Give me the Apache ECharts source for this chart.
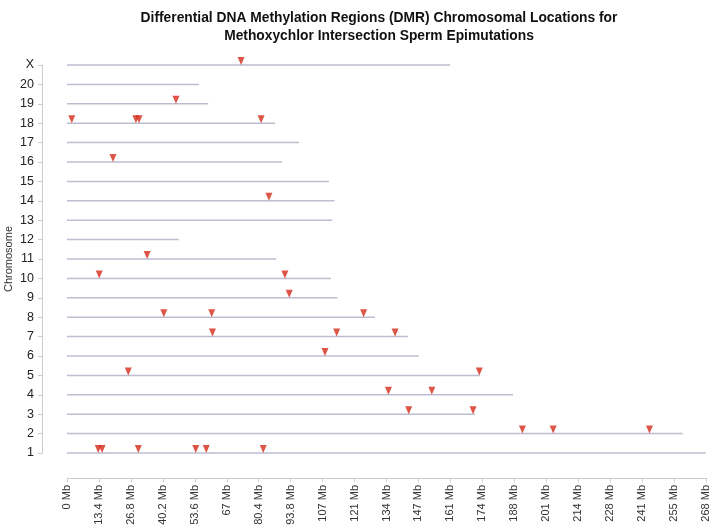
<!DOCTYPE html>
<html>
<head>
<meta charset="utf-8">
<script src="https://cdn.jsdelivr.net/npm/echarts@6/dist/echarts.min.js"></script>
<style>html,body{margin:0;padding:0;background:#fff}#c{width:715px;height:528px}</style>
</head>
<body>
<div id="c"></div>
<script>
// Chromosome names (y = 1..21) and lengths in Mb
var chromosomes = ['1','2','3','4','5','6','7','8','9','10','11','12','13','14','15','16','17','18','19','20','X'];
var chromLengths = [267.9, 258.2, 171.1, 187.1, 173.1, 147.6, 143.0, 129.1, 113.4, 110.7, 87.8, 46.8, 111.2, 112.2, 109.8, 90.2, 97.3, 87.3, 59.2, 55.3, 160.7];
// DMR positions (Mb) and the chromosome index (1..21) they sit on
var dmrPos = [13.1, 14.7, 29.9, 54.0, 58.4, 82.3,
              191.0, 203.9, 244.3,
              143.3, 170.3,
              134.8, 153.0,
              25.7, 172.9,
              108.2,
              61.0, 113.1, 137.6,
              40.6, 60.7, 124.4,
              93.2,
              13.5, 91.4,
              33.6,
              84.7,
              19.3,
              2.0, 28.9, 30.2, 81.4,
              45.7,
              73.0];
var dmrChrom = [1, 1, 1, 1, 1, 1,
                2, 2, 2,
                3, 3,
                4, 4,
                5, 5,
                6,
                7, 7, 7,
                8, 8, 8,
                9,
                10, 10,
                11,
                14,
                16,
                18, 18, 18, 18,
                19,
                21];
var xTickLabels = ['0 Mb','13.4 Mb','26.8 Mb','40.2 Mb','53.6 Mb','67 Mb','80.4 Mb','93.8 Mb','107 Mb','121 Mb','134 Mb','147 Mb','161 Mb','174 Mb','188 Mb','201 Mb','214 Mb','228 Mb','241 Mb','255 Mb','268 Mb'];

var chromData = chromLengths.map(function (len, i) { return [len, i + 1]; });
var dmrData = dmrPos.map(function (p, i) { return [p, dmrChrom[i]]; });

var chart = echarts.init(document.getElementById('c'));
chart.setOption({
  animation: false,
  backgroundColor: '#fff',
  textStyle: { fontFamily: 'Liberation Sans, Arial, sans-serif' },
  title: {
    text: 'Differential DNA Methylation Regions (DMR) Chromosomal Locations for\nMethoxychlor Intersection Sperm Epimutations',
    left: 374, top: 4, textAlign: 'center',
    textStyle: { fontSize: 13.8, fontWeight: 'bold', color: '#111', lineHeight: 18, fontFamily: 'Liberation Sans, Arial, sans-serif' }
  },
  grid: { left: 67, right: 9, top: 65, bottom: 75, containLabel: false, outerBoundsMode: 'none' },
  xAxis: {
    type: 'value', min: 0, max: 268, interval: 13.4, offset: 25,
    axisLine: { show: true, onZero: false, lineStyle: { color: '#cccccc' } },
    axisTick: { show: true, length: 4, lineStyle: { color: '#cccccc' } },
    splitLine: { show: false },
    axisLabel: {
      rotate: 90, fontSize: 11, color: '#333', margin: 7,
      formatter: function (v) { return xTickLabels[Math.round(v / 13.4)]; }
    }
  },
  yAxis: {
    type: 'value', min: 1, max: 21, interval: 1, offset: 25,
    name: 'Chromosome', nameLocation: 'middle', nameGap: 28, nameRotate: 90,
    nameMoveOverlap: false,
    nameTextStyle: { fontSize: 11, color: '#333' },
    axisLine: { show: true, onZero: false, lineStyle: { color: '#cccccc' } },
    axisTick: { show: true, length: 4, lineStyle: { color: '#cccccc' } },
    splitLine: { show: false },
    axisLabel: {
      fontSize: 12.5, color: '#222', margin: 8,
      formatter: function (v) { return chromosomes[v - 1]; }
    }
  },
  series: [
    {
      type: 'custom',
      data: chromData,
      renderItem: function (params, api) {
        var a = api.coord([0, api.value(1)]);
        var b = api.coord([api.value(0), api.value(1)]);
        return {
          type: 'line',
          shape: { x1: a[0], y1: a[1], x2: b[0], y2: b[1] },
          style: { stroke: '#bdbdd2', lineWidth: 1.5 }
        };
      },
      z: 1
    },
    {
      type: 'scatter',
      data: dmrData,
      symbol: 'triangle',
      symbolRotate: 180,
      symbolSize: [7, 8],
      symbolOffset: [0, -4],
      itemStyle: { color: '#d42a18' },
      z: 2
    }
  ]
});
</script>
</body>
</html>
